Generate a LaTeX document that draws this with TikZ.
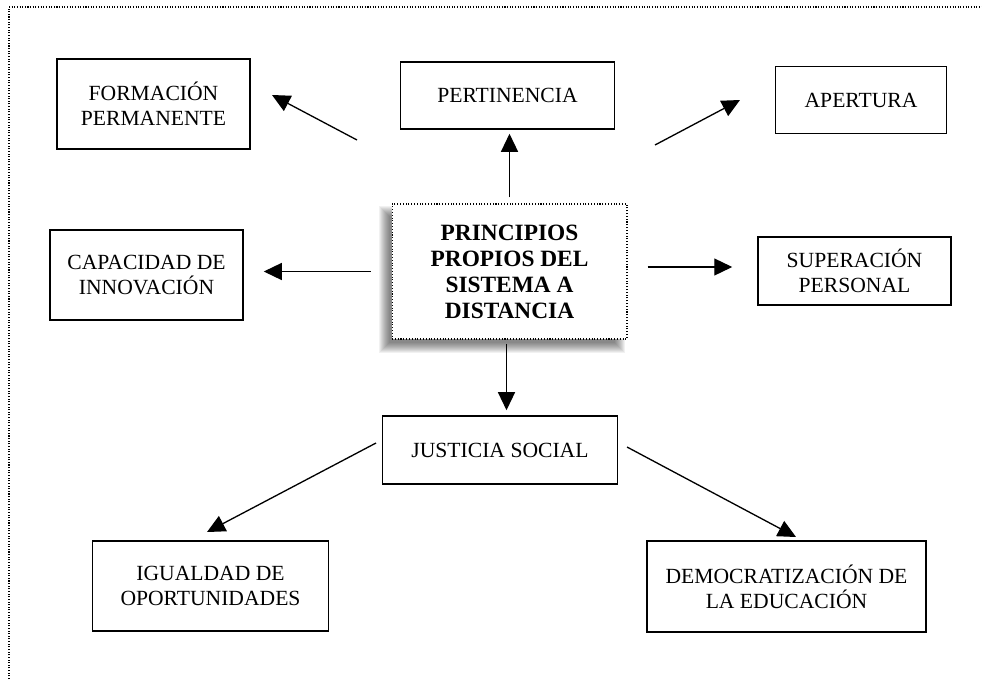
\documentclass[tikz,border=0pt]{standalone}
\usepackage{fontspec}
\setmainfont{Liberation Serif}
\usetikzlibrary{arrows.meta,backgrounds}

\begin{document}
\begin{tikzpicture}[
x = 0.02cm,
y = -0.02cm,
box/.style={
  draw,
  line width=0.9pt,
  align=center,
  inner sep=0pt,
  font=\fontsize{12.3}{14.2}\selectfont
  },
core/.style={
  draw,
  densely dotted,
  line width=0.6pt,
  fill=white,
  align=center,
  inner sep=0pt,
  font=\fontsize{13.3}{14.8}\selectfont\bfseries
  },
haze/.style={
  fill=black,
  opacity=0.055
  },
frame/.style={
  line width=0.6pt,
  dash pattern=on 0.6pt off 0.9pt
  },
>={Triangle[length=0.36cm,width=0.34cm]}
]

\useasboundingbox (0,0) rectangle (982,679);
\draw[frame] (9,679) -- (9,7) -- (982,7);

\node[core, minimum width=4.7cm, minimum height=2.7cm] (main) at (509.5,271.5)
  {PRINCIPIOS\\PROPIOS DEL\\SISTEMA A\\DISTANCIA};

% soft shadow of the central box
\begin{scope}[on background layer]
\foreach \k in {-5,...,5}
  \fill[haze] ([shift={(-8-\k,8+\k)}]main.south west) rectangle ([shift={(-8+\k,8-\k)}]main.north east);
\end{scope}

\node[box, minimum width=3.86cm, minimum height=1.8cm] (form) at (153.5,104) {FORMACIÓN\\PERMANENTE};
\node[box, minimum width=4.28cm, minimum height=1.34cm] (pert) at (507.5,95.5) {PERTINENCIA};
\node[box, minimum width=3.42cm, minimum height=1.34cm] (aper) at (861,100) {APERTURA};
\node[box, minimum width=3.86cm, minimum height=1.8cm] (capa) at (146.5,275) {CAPACIDAD DE\\INNOVACIÓN};
\node[box, minimum width=3.86cm, minimum height=1.36cm] (supe) at (854.5,271) {SUPERACIÓN\\PERSONAL};
\node[box, minimum width=4.7cm, minimum height=1.36cm] (just) at (500,450) {JUSTICIA SOCIAL};
\node[box, minimum width=4.72cm, minimum height=1.8cm] (igua) at (210.5,586) {IGUALDAD DE\\OPORTUNIDADES};
\node[box, minimum width=5.58cm, minimum height=1.82cm] (demo) at (786.5,586.5) {DEMOCRATIZACIÓN DE\\LA EDUCACIÓN};

% free ends of the slanted arrows
\coordinate (f1) at (357,140);
\coordinate (f2) at (272,95);
\coordinate (a1) at (655,145);
\coordinate (a2) at (740,100);
\coordinate (i1) at (376,443);
\coordinate (i2) at (207,532);
\coordinate (d1) at (627,447);
\coordinate (d2) at (796,537);

\draw[line width=0.75pt][->] (f1) -- (f2);
\draw[line width=0.75pt][->] (a1) -- (a2);
\draw[line width=0.75pt][->, shorten <=0.12cm, shorten >=0.08cm] (main.north) -- (main.north |- pert.south);
\draw[line width=0.75pt][->, shorten <=0.42cm, shorten >=0.4cm] (main.west) -- (main.west -| capa.east);
\draw[line width=0.75pt][->, shorten <=0.4cm, shorten >=0.5cm] ([yshift=0.09cm]main.east) -- ([yshift=0.09cm]main.east -| supe.west);
\draw[line width=0.75pt][->, shorten <=0.08cm, shorten >=0.1cm] ([xshift=-0.06cm]main.south) -- ([xshift=-0.06cm]main.south |- just.north);
\draw[line width=0.75pt][->] (i1) -- (i2);
\draw[line width=0.75pt][->] (d1) -- (d2);

\end{tikzpicture}
\end{document}
